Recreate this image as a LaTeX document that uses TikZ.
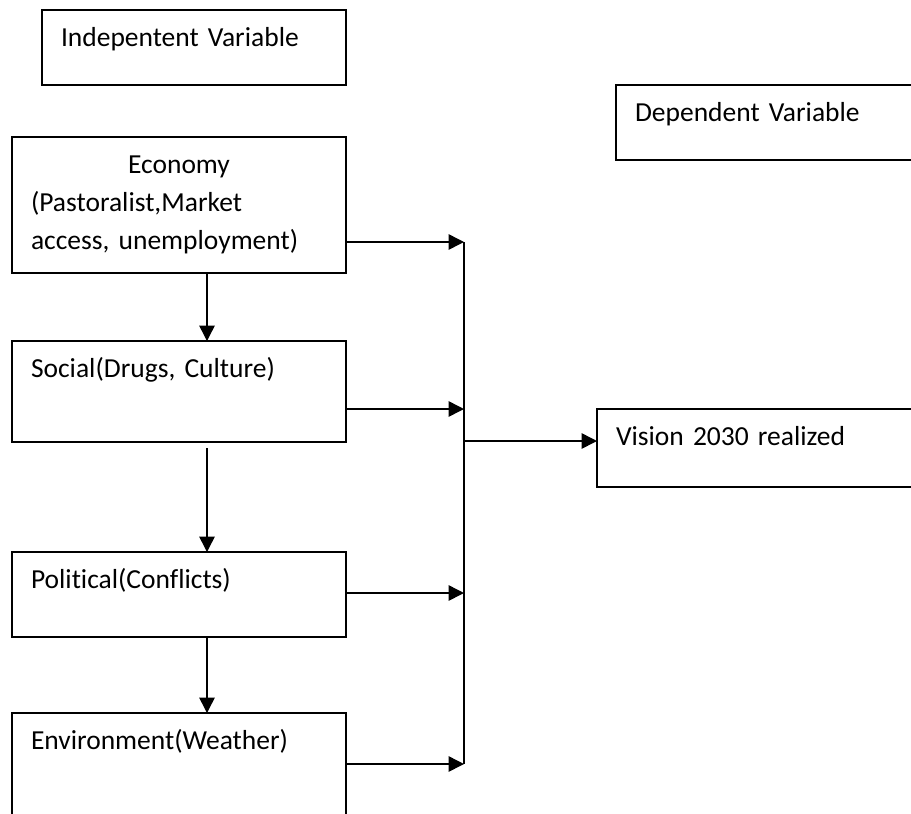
\documentclass[tikz,border=0pt]{standalone}
\usepackage{fontspec}
\setmainfont{Carlito}[Ligatures={NoCommon}]
\usetikzlibrary{arrows.meta}
\frenchspacing

\begin{document}
\begin{tikzpicture}[x=0.4pt, y=-0.4pt,
  >={Triangle[length=6.2pt, width=6.2pt]},
  varbox/.style={draw, line width=0.75pt, outer sep=0pt, anchor=north west,
    inner xsep=7.6pt, inner ysep=0pt, align=left,
    font=\fontsize{11pt}{15.2pt}\selectfont, text height=14.6pt},
  arrowline/.style={->, line width=0.6pt}]
% Rahmen
\useasboundingbox (0,0) rectangle (911,813);
\clip (0,0) rectangle (911,813);

% Ueberschriften
\node[varbox, text width=106.4pt, text depth=15.4pt] (indep) at (42,10) {Indepentent Variable};
\node[varbox, text width=112.8pt, text depth=15.4pt] (dep) at (616,85) {Dependent Variable};

% Unabhaengige Variablen
\node[varbox, text width=118.4pt, text depth=39.8pt] (econ) at (12,137)
  {\makebox[\linewidth]{Economy}\\(Pastoralist,Market\\access, unemployment)};
\node[varbox, text width=118.4pt, text depth=25.8pt] (social) at (12,341) {Social(Drugs, Culture)};
\node[varbox, text width=118.4pt, text depth=19.4pt] (polit) at (12,552) {Political(Conflicts)};
\node[varbox, text width=118.4pt, text depth=37.4pt] (envir) at (12,713) {Environment(Weather)};

% Abhaengige Variable
\node[varbox, text width=120.8pt, text depth=16.6pt] (vision) at (597,409) {Vision 2030 realized};

% Sammelleitung
\coordinate (bustop) at (464,242);
\coordinate (bus2) at (464,409);
\coordinate (busmid) at (464,441);
\coordinate (bus3) at (464,593);
\coordinate (busbot) at (464,764);
\coordinate (downx) at (207,0);

\draw[line width=0.85pt] (bustop) -- (busbot);
\draw[arrowline] (econ.east |- bustop) -- (bustop);
\draw[arrowline] (social.east |- bus2) -- (bus2);
\draw[arrowline] (polit.east |- bus3) -- (bus3);
\draw[arrowline] (envir.east |- busbot) -- (busbot);
\draw[arrowline] (busmid) -- (vision.west |- busmid);

% Abwaerts
\draw[arrowline] (econ.south -| downx) -- (social.north -| downx);
\draw[arrowline, shorten <=2.4pt] (social.south -| downx) -- (polit.north -| downx);
\draw[arrowline] (polit.south -| downx) -- (envir.north -| downx);
\end{tikzpicture}
\end{document}
